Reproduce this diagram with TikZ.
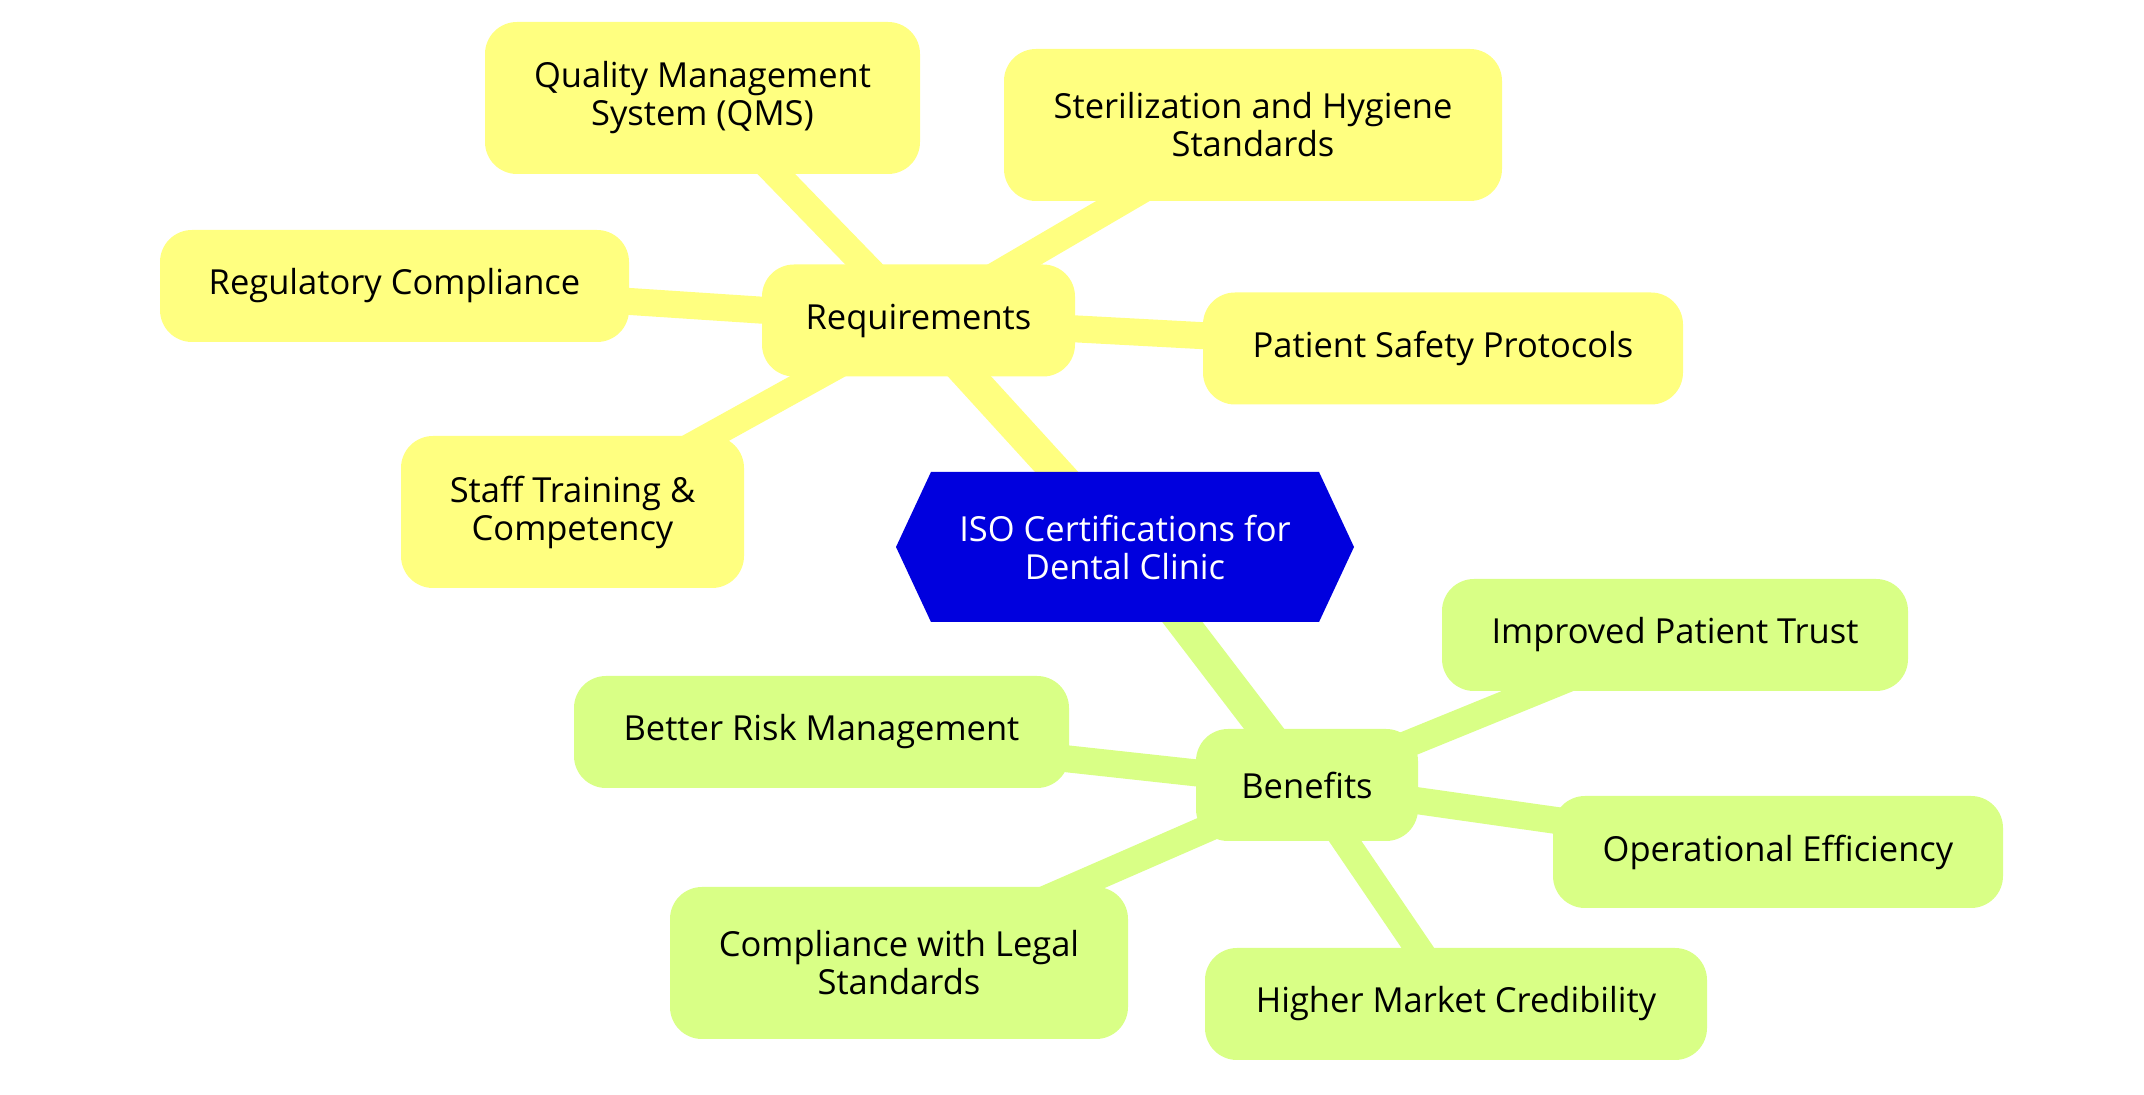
\documentclass[tikz,border=0pt]{standalone}
\usepackage{fontspec}
\setmainfont{Open Sans}
\usepackage{tikz}
\usetikzlibrary{shapes.symbols,backgrounds}

\definecolor{reqyellow}{RGB}{255,255,128}
\definecolor{bengreen}{RGB}{217,255,134}
\definecolor{rootblue}{RGB}{0,0,222}

\begin{document}
\begin{tikzpicture}[x=0.5pt,y=0.5pt,yscale=-1,xscale=1,
        every node/.style={font=\fontsize{17.25}{19}\selectfont, align=center, inner sep=0pt},
        reqbox/.style={fill=reqyellow, rounded corners=16pt, minimum height=56pt},
        benbox/.style={fill=bengreen, rounded corners=16pt, minimum height=56pt},
        tall/.style={minimum height=76pt},
        reqlink/.style={draw=reqyellow, line width=13.5pt},
        benlink/.style={draw=bengreen, line width=13.5pt},
        rootlink/.style={line width=16pt}]
        \useasboundingbox (0,0) rectangle (2144,1095);
        %Shape: Hexagon [root]
        \node [signal, signal to=west and east, signal pointer angle=130, fill=rootblue, text=white,
            minimum width=229pt, minimum height=75pt] (root) at (1125,547) {ISO Certifications for\\Dental Clinic};
        % Requirements branch
        \node [reqbox, minimum width=156.5pt] (req) at (918.5,320.5) {Requirements};
        \node [reqbox, tall, minimum width=217.5pt] (qms) at (702.5,98) {Quality Management\\System (QMS)};
        \node [reqbox, tall, minimum width=249pt] (steril) at (1253,125) {Sterilization and Hygiene\\Standards};
        \node [reqbox, minimum width=234.5pt] (regul) at (394.5,286) {Regulatory Compliance};
        \node [reqbox, minimum width=240pt] (patsafe) at (1443,348.5) {Patient Safety Protocols};
        \node [reqbox, tall, minimum width=171.5pt] (staff) at (572.5,512) {Staff Training \&\\Competency};
        % Benefits branch
        \node [benbox, minimum width=111pt] (ben) at (1307,785) {Benefits};
        \node [benbox, minimum width=233pt] (trust) at (1675,635) {Improved Patient Trust};
        \node [benbox, minimum width=247.5pt] (risk) at (821.5,732) {Better Risk Management};
        \node [benbox, minimum width=225pt] (effic) at (1778,852) {Operational Efficiency};
        \node [benbox, tall, minimum width=229pt] (legal) at (899,963) {Compliance with Legal\\Standards};
        \node [benbox, minimum width=251pt] (cred) at (1456,1004) {Higher Market Credibility};
        % Links, behind the boxes
        \begin{pgfonlayer}{background}
            \draw [reqlink, rootlink] (root.center) -- (req.center);
            \draw [benlink, rootlink] (root.center) -- (ben.center);
            \foreach \leaf in {qms,steril,regul,patsafe,staff}
                \draw [reqlink] (req.center) -- (\leaf.center);
            \foreach \leaf in {trust,risk,effic,legal,cred}
                \draw [benlink] (ben.center) -- (\leaf.center);
        \end{pgfonlayer}
\end{tikzpicture}
\end{document}
